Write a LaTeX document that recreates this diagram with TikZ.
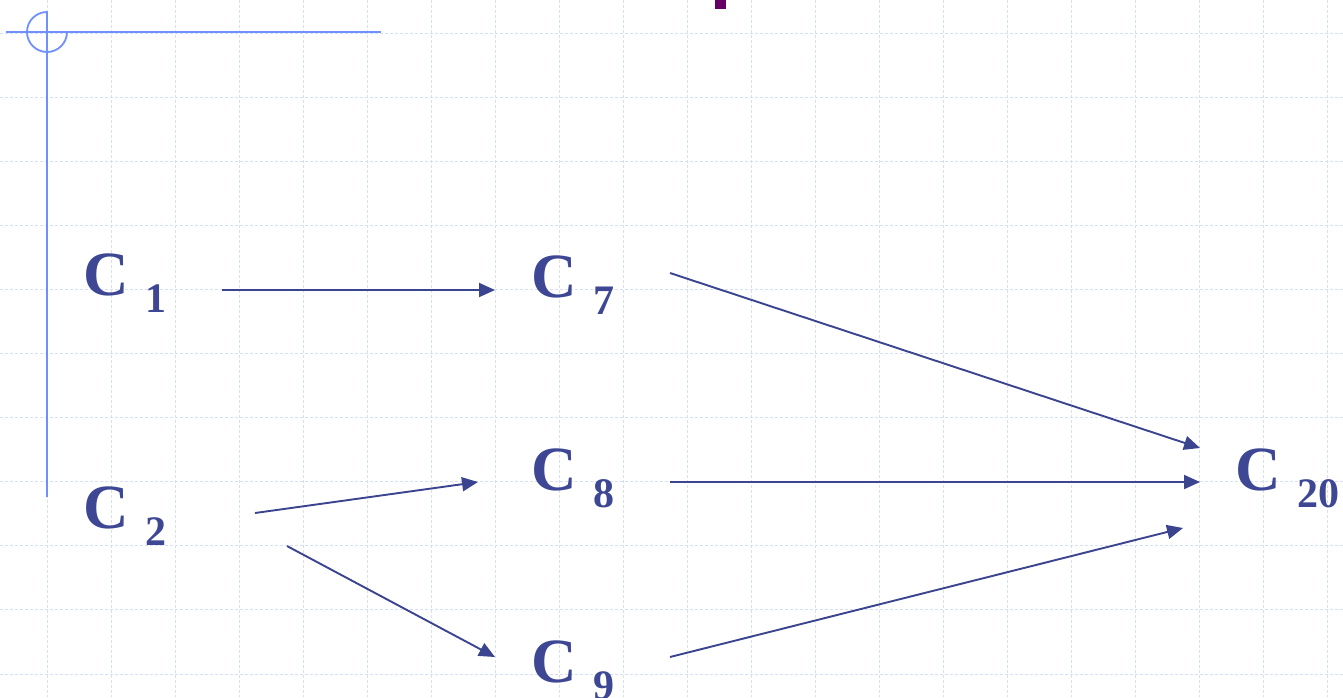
\documentclass[tikz,border=0pt]{standalone}
\usepackage{fontspec}
\setmainfont{Liberation Serif}
\usetikzlibrary{arrows.meta}
\definecolor{txtblue}{HTML}{3D4794}
\definecolor{arrblue}{HTML}{3A448F}
\definecolor{frameblue}{HTML}{7090FF}
\definecolor{gridblue}{HTML}{D6DFF8}
\definecolor{markpurple}{HTML}{660066}
\newcommand\csubnode[1]{C \hspace{1.5pt}\raisebox{-17pt}{\fontsize{42}{42}\selectfont #1}}
\begin{document}
\begin{tikzpicture}[x=1pt,y=-1pt,
  lab/.style={anchor=base west, inner sep=0pt, outer sep=0pt, text=txtblue,
    font=\fontsize{63}{63}\selectfont\bfseries},
  arr/.style={draw=arrblue, line width=1.9pt, -{Triangle[length=16pt,width=14pt]}},
  gridline/.style={draw=gridblue, line width=1pt, dash pattern=on 3pt off 2pt},
  frame/.style={draw=frameblue, line width=1.8pt}]
\useasboundingbox (0,0) rectangle (1343,697);
\fill[white] (0,0) rectangle (1343,697);
% grid
\foreach \k in {0,...,20} {
  \draw[gridline] ({47+64*\k},0) -- ({47+64*\k},697);
}
\foreach \k in {0,...,10} {
  \draw[gridline] (0,{33.5+64.05*\k}) -- (1343,{33.5+64.05*\k});
}
% frame decoration
\draw[frame] (47,11) -- (47,497);
\draw[frame] (6,32) -- (381,32);
\draw[frame] (47,12) arc[start angle=90, delta angle=270, radius=20pt];
\fill[markpurple] (715,0) rectangle (726,9);
% nodes
\node[lab] (c1) at (83,295) {\csubnode{1}};
\node[lab] (c2) at (83,528) {\csubnode{2}};
\node[lab] (c7) at (531,297) {\csubnode{7}};
\node[lab] (c8) at (531,490) {\csubnode{8}};
\node[lab] (c9) at (531,682) {\csubnode{9}};
\node[lab] (c20) at (1235,490) {\csubnode{20}};
% connectors
\draw[arr] ([shift={(139,-5)}]c1.base west) -- ([shift={(-36,-7)}]c7.base west);
\draw[arr] ([shift={(172,-15)}]c2.base west) -- ([shift={(-53,-8)}]c8.base west);
\draw[arr] ([shift={(204,18)}]c2.base west) -- ([shift={(-36,-25)}]c9.base west);
\draw[arr] ([shift={(139,-24)}]c7.base west) -- ([shift={(-35,-42)}]c20.base west);
\draw[arr] ([shift={(139,-8)}]c8.base west) -- ([shift={(-35,-8)}]c20.base west);
\draw[arr] ([shift={(139,-25)}]c9.base west) -- ([shift={(-52,38)}]c20.base west);
\end{tikzpicture}
\end{document}
